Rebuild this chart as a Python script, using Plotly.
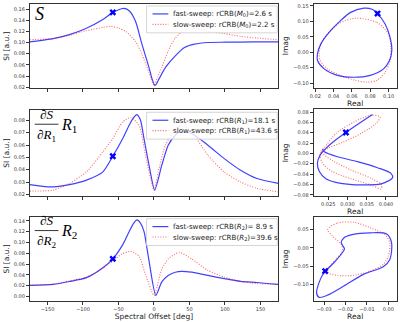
import plotly.graph_objects as go

# ---------------- data ----------------
# Spectral offset grids [deg] and signal magnitudes
s_fast_x = [-175, -142, -119, -96, -72, -58, -43, -35, -26, -17, -7, -3, 1, 3, 6, 16, 30, 43, 57, 76, 100, 140, 175]
s_fast_y = [0.101, 0.107, 0.114, 0.125, 0.141, 0.154, 0.161, 0.157, 0.138, 0.097, 0.055, 0.036, 0.023, 0.025, 0.032, 0.055, 0.076, 0.091, 0.097, 0.100, 0.1005, 0.101, 0.101]
s_slow_x = [-175, -142, -119, -96, -72, -61, -50, -40, -26, -17, -7, 0, 5, 11, 20, 30, 43, 50, 60, 76, 99, 122, 145, 175]
s_slow_y = [0.105, 0.107, 0.113, 0.121, 0.127, 0.129, 0.126, 0.120, 0.102, 0.079, 0.046, 0.023, 0.038, 0.055, 0.085, 0.108, 0.123, 0.126, 0.125, 0.120, 0.116, 0.111, 0.108, 0.105]

r1_fast_x = [-175, -146, -119, -95, -72, -58, -44, -35, -29, -24, -19, -14, -7, 1, 11, 20, 30, 36, 53, 76, 99, 122, 145, 175]
r1_fast_y = [0.028, 0.0261, 0.028, 0.0316, 0.0383, 0.0509, 0.0652, 0.076, 0.082, 0.0846, 0.080, 0.065, 0.0437, 0.0235, 0.0437, 0.0598, 0.0679, 0.0706, 0.0693, 0.0598, 0.049, 0.0396, 0.0329, 0.0289]
r1_slow_x = [-175, -142, -119, -95, -72, -58, -44, -33, -21, -12, 0, 6, 16, 30, 39, 53, 76, 99, 122, 145, 175]
r1_slow_y = [0.0227, 0.0235, 0.0289, 0.0383, 0.0544, 0.0652, 0.0787, 0.0822, 0.076, 0.0517, 0.0235, 0.038, 0.0598, 0.0733, 0.076, 0.0706, 0.0517, 0.038, 0.030, 0.0249, 0.0221]

r2_fast_x = [-175, -142, -119, -95, -72, -58, -44, -35, -29, -24, -19, -14, -7, 2.5, 11, 20, 30, 39, 53, 76, 99, 122, 145, 175]
r2_fast_y = [0.0205, 0.0224, 0.0278, 0.035, 0.0533, 0.0697, 0.096, 0.12, 0.135, 0.1418, 0.136, 0.12, 0.066, 0.002, 0.027, 0.039, 0.045, 0.0467, 0.045, 0.039, 0.033, 0.028, 0.026, 0.0224]
r2_slow_x = [-175, -142, -119, -95, -72, -58, -45, -33, -21, -12, 0, 11, 20, 30, 36, 53, 76, 99, 122, 145, 175]
r2_slow_y = [0.021, 0.023, 0.029, 0.036, 0.052, 0.066, 0.079, 0.0836, 0.0745, 0.041, 0.002, 0.051, 0.0696, 0.0787, 0.0818, 0.0696, 0.0484, 0.036, 0.028, 0.024, 0.0224]

marker_offset = -58
marker_vals = [0.154, 0.0509, 0.0697]

# Complex-plane trajectories (Real, Imag)
cs_fast_re = [0.088, 0.0963, 0.1017, 0.1036, 0.101, 0.0946, 0.080, 0.062, 0.044, 0.0296, 0.0223, 0.0223, 0.026, 0.035, 0.0476, 0.058, 0.073, 0.082, 0.088]
cs_fast_im = [0.125, 0.091, 0.048, 0.005, -0.027, -0.054, -0.075, -0.081, -0.075, -0.054, -0.027, -0.005, 0.027, 0.064, 0.102, 0.128, 0.1426, 0.139, 0.125]
cs_slow_re = [0.0638, 0.0873, 0.0999, 0.1025, 0.1018, 0.0963, 0.0873, 0.0765, 0.0638, 0.0476, 0.0332, 0.0252, 0.0241, 0.026, 0.0332, 0.0457, 0.0638]
cs_slow_im = [0.110, 0.0963, 0.059, 0.016, -0.027, -0.065, -0.091, -0.097, -0.091, -0.075, -0.054, -0.027, -0.005, 0.027, 0.059, 0.093, 0.110]

c1_fast_re = [0.0365, 0.0296, 0.0261, 0.0244, 0.0229, 0.0222, 0.0227, 0.0244, 0.0283, 0.0335, 0.0387, 0.0417, 0.0413, 0.0378, 0.0326, 0.0274, 0.024, 0.0235]
c1_fast_im = [0.075, 0.0404, 0.0212, 0.0096, -0.0033, -0.019, -0.035, -0.049, -0.058, -0.061, -0.059, -0.047, -0.0385, -0.0277, -0.016, -0.0065, 0.003, 0.0083]
c1_slow_re = [0.024, 0.027, 0.0318, 0.0361, 0.0385, 0.0374, 0.0335, 0.0287, 0.0248, 0.0229, 0.0235, 0.0261, 0.0309, 0.0361, 0.0387, 0.0389, 0.0361, 0.0309, 0.0266, 0.024, 0.0231, 0.024]
c1_slow_im = [0.0108, 0.0385, 0.061, 0.0737, 0.0704, 0.0577, 0.0385, 0.0212, 0.0096, 0.0, -0.019, -0.035, -0.049, -0.061, -0.0687, -0.061, -0.048, -0.032, -0.016, -0.0033, 0.003, 0.0108]

c2_fast_re = [-0.0295, -0.0254, -0.0215, -0.0205, -0.022, -0.0208, -0.0169, -0.0085, -0.0008, 0.0015, 0.0007, -0.0024, -0.0116, -0.0208, -0.0284, -0.0323, -0.0335, -0.0323, -0.0303, -0.0295]
c2_fast_im = [-0.064, -0.041, -0.0136, -0.003, 0.0136, 0.027, 0.036, 0.041, 0.038, 0.0136, -0.032, -0.052, -0.073, -0.105, -0.130, -0.136, -0.123, -0.095, -0.070, -0.064]
c2_slow_re = [-0.0284, -0.0238, -0.0162, -0.0085, -0.0016, 0.0007, -0.00005, -0.0024, -0.0085, -0.0162, -0.0238, -0.0284, -0.0277, -0.0246, -0.0215, -0.022, -0.0261, -0.0284]
c2_slow_im = [0.050, 0.068, 0.070, 0.055, 0.036, 0.0136, -0.023, -0.0455, -0.0638, -0.0755, -0.0755, -0.068, -0.0545, -0.032, -0.009, 0.009, 0.032, 0.050]

marker_re = [0.088, 0.0296, -0.0295]
marker_im = [0.125, 0.0404, -0.064]

legend_fast = ["fast-sweep: rCRB(<i>M</i><sub>0</sub>)=2.6 s",
               "fast-sweep: rCRB(<i>R</i><sub>1</sub>)=18.1 s",
               "fast-sweep: rCRB(<i>R</i><sub>2</sub>)= 8.9 s"]
legend_slow = ["slow-sweep: rCRB(<i>M</i><sub>0</sub>)=2.2 s",
               "slow-sweep: rCRB(<i>R</i><sub>1</sub>)=43.6 s",
               "slow-sweep: rCRB(<i>R</i><sub>2</sub>)=39.6 s"]

# ---------------- layout helpers ----------------
W, H = 400, 322
def PX(x): return x / W
def PY(y): return 1 - y / H

BLUE = "rgba(0,0,255,0.75)"
RED = "rgba(255,0,0,0.6)"
AX = "#333333"
FONT = "DejaVu Sans"

left_x = (26, 277)
right_x = (312.7, 396.7)
left_rows = [(3, 88), (110, 196), (217, 302)]
right_rows = [(2.7, 87.3), (109, 196.7), (217.3, 301.7)]

fig = go.Figure()

left_data = [(s_fast_x, s_fast_y, s_slow_x, s_slow_y),
             (r1_fast_x, r1_fast_y, r1_slow_x, r1_slow_y),
             (r2_fast_x, r2_fast_y, r2_slow_x, r2_slow_y)]
right_data = [(cs_fast_re, cs_fast_im, cs_slow_re, cs_slow_im),
              (c1_fast_re, c1_fast_im, c1_slow_re, c1_slow_im),
              (c2_fast_re, c2_fast_im, c2_slow_re, c2_slow_im)]

for i in range(3):
    xl = "x%d" % (2 * i + 1) if i > 0 else "x"
    yl = "y%d" % (2 * i + 1) if i > 0 else "y"
    xr = "x%d" % (2 * i + 2)
    yr = "y%d" % (2 * i + 2)
    fx, fy, sx, sy = left_data[i]
    fig.add_trace(go.Scatter(x=fx, y=fy, xaxis=xl, yaxis=yl, mode="lines",
                             line=dict(color=BLUE, width=1.2, shape="spline", smoothing=0.6)))
    fig.add_trace(go.Scatter(x=sx, y=sy, xaxis=xl, yaxis=yl, mode="lines",
                             line=dict(color=RED, width=1.1, dash="1px,1.6px", shape="spline", smoothing=0.6)))
    fig.add_trace(go.Scatter(x=[marker_offset], y=[marker_vals[i]], xaxis=xl, yaxis=yl, mode="markers",
                             marker=dict(symbol="x", size=6, color="blue")))
    fre, fim, sre, sim = right_data[i]
    fig.add_trace(go.Scatter(x=sre, y=sim, xaxis=xr, yaxis=yr, mode="lines",
                             line=dict(color=RED, width=1.1, dash="1px,1.6px", shape="spline", smoothing=0.8)))
    fig.add_trace(go.Scatter(x=fre, y=fim, xaxis=xr, yaxis=yr, mode="lines",
                             line=dict(color=BLUE, width=1.2, shape="spline", smoothing=0.8)))
    fig.add_trace(go.Scatter(x=[marker_re[i]], y=[marker_im[i]], xaxis=xr, yaxis=yr, mode="markers",
                             marker=dict(symbol="x", size=6, color="blue")))

common = dict(showline=True, mirror=True, linecolor=AX, linewidth=0.8, ticks="outside",
              ticklen=3, tickwidth=0.8, tickcolor=AX, showgrid=False, zeroline=False,
              tickfont=dict(size=5, color=AX, family=FONT))

left_yranges = [[0.0177, 0.169], [0.0189, 0.0881], [-0.0085, 0.1478]]
left_yticks = [[0.02, 0.04, 0.06, 0.08, 0.10, 0.12, 0.14, 0.16],
               [0.02, 0.03, 0.04, 0.05, 0.06, 0.07, 0.08],
               [0.00, 0.02, 0.04, 0.06, 0.08, 0.10, 0.12, 0.14]]
right_xranges = [[0.018, 0.109], [0.0212, 0.0428], [-0.0349, 0.0039]]
right_yranges = [[-0.115, 0.157], [-0.0833, 0.0852], [-0.1455, 0.0846]]
right_xticks = [[0.02, 0.04, 0.06, 0.08, 0.10], [0.025, 0.030, 0.035, 0.040], [-0.03, -0.02, -0.01, 0.00]]
right_xfmt = [".2f", ".3f", ".2f"]
right_yticks = [[-0.10, -0.05, 0.00, 0.05, 0.10, 0.15],
                [-0.08, -0.06, -0.04, -0.02, 0.00, 0.02, 0.04, 0.06, 0.08],
                [-0.10, -0.05, 0.00, 0.05]]

title_font = dict(size=7.5, color="#222", family=FONT)
offset_ticks = [-150, -100, -50, 0, 50, 100, 150]

lay = {}
for i in range(3):
    kl = "" if i == 0 else str(2 * i + 1)
    kr = str(2 * i + 2)
    top, bot = left_rows[i]
    lay["xaxis" + kl] = dict(common, domain=[PX(left_x[0]), PX(left_x[1])], range=[-175, 175],
                             anchor="y" + kl, tickvals=offset_ticks,
                             showticklabels=(i == 2))
    if i == 2:
        lay["xaxis" + kl]["title"] = dict(text="Spectral Offset [deg]", font=title_font, standoff=2)
    lay["yaxis" + kl] = dict(common, domain=[PY(bot), PY(top)], range=left_yranges[i],
                             anchor="x" + kl, tickvals=left_yticks[i], tickformat=".2f",
                             title=dict(text="SI [a.u.]", font=title_font, standoff=3))
    rt, rb = right_rows[i]
    lay["xaxis" + kr] = dict(common, domain=[PX(right_x[0]), PX(right_x[1])], range=right_xranges[i],
                             anchor="y" + kr, tickvals=right_xticks[i], tickformat=right_xfmt[i],
                             title=dict(text="Real", font=title_font, standoff=2))
    lay["yaxis" + kr] = dict(common, domain=[PY(rb), PY(rt)], range=right_yranges[i],
                             anchor="x" + kr, tickvals=right_yticks[i], tickformat=".2f",
                             title=dict(text="Imag", font=title_font, standoff=3))

# ---------------- legends (drawn as boxes + text) ----------------
shapes = []
annotations = []
for i in range(3):
    top = left_rows[i][0]
    bx0, bx1 = 144, 276
    by0, by1 = top + 2, top + 29
    shapes.append(dict(type="rect", xref="paper", yref="paper",
                       x0=PX(bx0), x1=PX(bx1), y0=PY(by1), y1=PY(by0),
                       fillcolor="rgba(255,255,255,0.8)", line=dict(color="#cccccc", width=0.8),
                       layer="above"))
    for j, (txt, col, dash) in enumerate([(legend_fast[i], BLUE, "solid"), (legend_slow[i], RED, "1px,1.6px")]):
        yy = top + 10 + j * 10.5
        shapes.append(dict(type="line", xref="paper", yref="paper",
                           x0=PX(150), x1=PX(166), y0=PY(yy), y1=PY(yy),
                           line=dict(color=col, width=1.2, dash=dash), layer="above"))
        annotations.append(dict(xref="paper", yref="paper", x=PX(169), y=PY(yy), xanchor="left",
                                yanchor="middle", text=txt, showarrow=False,
                                font=dict(size=7.1, color="#222", family=FONT)))

# ---------------- panel math labels ----------------
MATH = "Liberation Serif"
annotations.append(dict(xref="paper", yref="paper", x=PX(29), y=PY(13), xanchor="left", yanchor="middle",
                        text="<i>S</i>", showarrow=False, font=dict(size=18, color="black", family=MATH)))
for i, sub in [(1, "1"), (2, "2")]:
    top = left_rows[i][0]
    bar_y = top + 14
    annotations.append(dict(xref="paper", yref="paper", x=PX(43), y=PY(bar_y - 0.5), xanchor="center",
                            yanchor="bottom", text="∂<i>S</i>", showarrow=False,
                            font=dict(size=13, color="black", family=MATH)))
    annotations.append(dict(xref="paper", yref="paper", x=PX(43), y=PY(bar_y + 0.5), xanchor="center",
                            yanchor="top", text="∂<i>R</i><sub>" + sub + "</sub>", showarrow=False,
                            font=dict(size=13, color="black", family=MATH)))
    annotations.append(dict(xref="paper", yref="paper", x=PX(56), y=PY(bar_y + 1), xanchor="left",
                            yanchor="middle", text="<i>R</i><sub>" + sub + "</sub>", showarrow=False,
                            font=dict(size=16, color="black", family=MATH)))
    shapes.append(dict(type="line", xref="paper", yref="paper", x0=PX(31), x1=PX(55),
                       y0=PY(bar_y), y1=PY(bar_y), line=dict(color="black", width=0.8)))

fig.update_layout(width=W, height=H, margin=dict(l=0, r=0, t=0, b=0),
                  paper_bgcolor="white", plot_bgcolor="white", showlegend=False,
                  font=dict(family=FONT), shapes=shapes, annotations=annotations, **lay)

fig.write_html("out.html", config={"displayModeBar": False},
               post_script="document.body.style.margin='0px';document.body.style.overflow='hidden';")
